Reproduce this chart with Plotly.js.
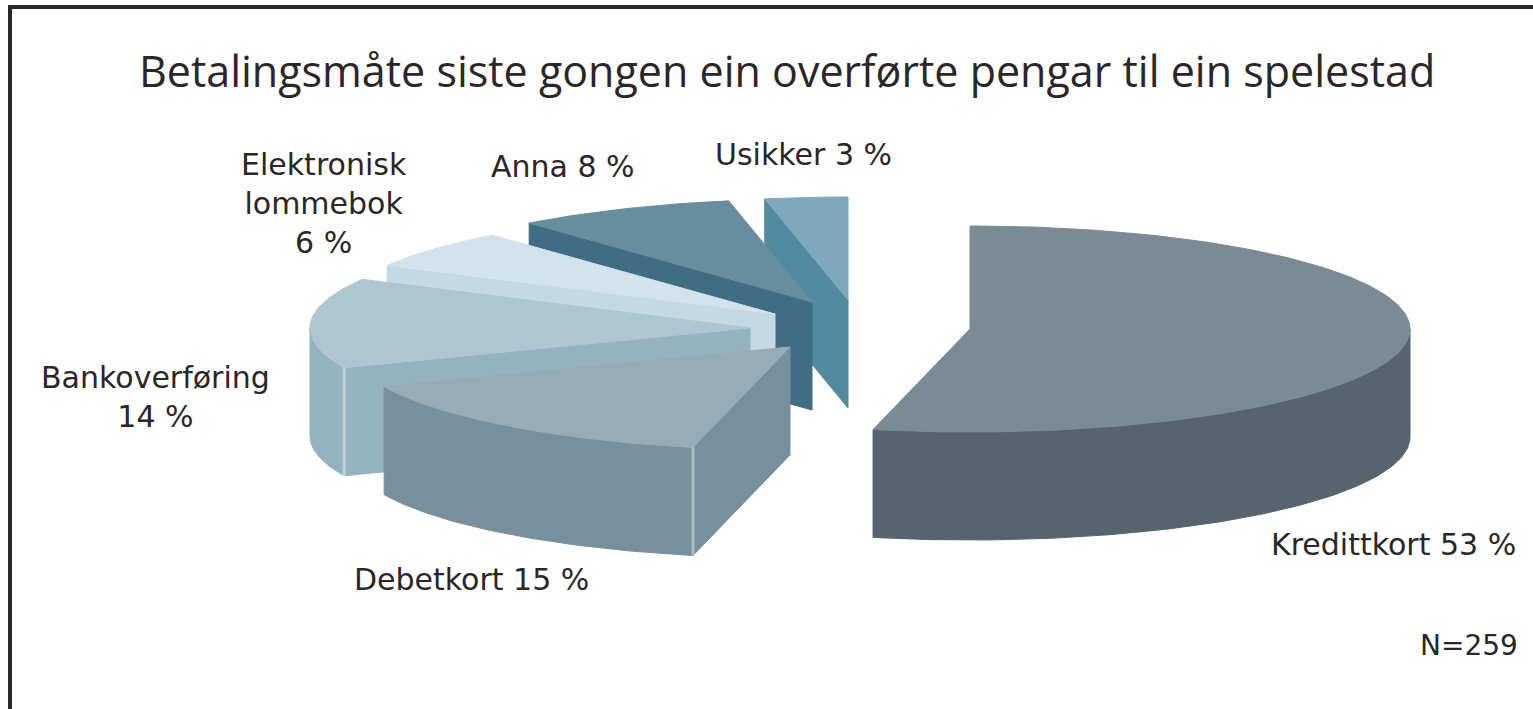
<!DOCTYPE html>
<html>
<head>
<meta charset="utf-8">
<script src="https://cdn.plot.ly/plotly-3.0.1.min.js"></script>
<style>html,body{margin:0;padding:0;background:#fff}#chart{width:1533px;height:709px}</style>
</head>
<body>
<div id="chart"></div>
<script>
// ---- data, clockwise from twelve o'clock
const categories = ["Kredittkort", "Debetkort", "Bankoverføring", "Elektronisk lommebok", "Anna", "Usikker"];
const percentages = [53, 15, 14, 6, 8, 3];
const sampleNote = "N=259";
const chartTitle = "Betalingsmåte siste gongen ein overførte pengar til ein spelestad";

// ---- styling: colours per slice
const topColours  = ["#7a8b95", "#97abb6", "#aec5d2", "#d2e3eb", "#678d9f", "#7fa8ba"];
const sideColours = ["#55646d", "#788f9d", "#94b2c0", "#c3d9e4", "#3f6e82", "#528aa0"];

// ---- geometry of the tilted, exploded pie (screen units of the hidden axes)
const radiusX = 440, radiusY = 103, depth = 108;
const apexX = [970, 790, 750, 775, 812, 848];
const apexY = [329, 347, 328, 314, 302, 300];
const drawOrder = [5, 4, 3, 2, 1, 0];

// ---- text placement
const labelX = [1393, 471, 155, 324, 563, 803];
const labelY = [544, 579, 397, 203, 166, 154];
const labelLines = [["Kredittkort"], ["Debetkort"], ["Bankoverføring"], ["Elektronisk", "lommebok"], ["Anna"], ["Usikker"]];
const labelBreakBeforeValue = [false, false, true, true, false, false];

const total = percentages.reduce((s, v) => s + v, 0);
const rad = d => d * Math.PI / 180;
const rimX = (i, deg) => apexX[i] + radiusX * Math.sin(rad(deg));
const rimY = (i, deg) => apexY[i] - radiusY * Math.cos(rad(deg));

function arc(i, from, to) {
  const pts = [];
  const n = Math.max(2, Math.ceil(Math.abs(to - from)));
  for (let k = 0; k <= n; k++) {
    const d = from + (to - from) * k / n;
    pts.push([rimX(i, d), rimY(i, d)]);
  }
  return pts;
}

function face(points, colour, name, pct) {
  const closed = points.concat([points[0]]);
  return {
    type: "scatter", mode: "lines", fill: "toself", fillcolor: colour,
    x: closed.map(p => p[0]), y: closed.map(p => p[1]),
    line: {color: colour, width: 1}, showlegend: false,
    hoverinfo: "text", text: name + " " + pct + " %", hoveron: "fills"
  };
}

function edge(x, y0, y1) {
  return {type: "scatter", mode: "lines", x: [x, x], y: [y0, y1],
          line: {color: "rgba(255,255,255,0.4)", width: 3}, showlegend: false, hoverinfo: "skip"};
}

let cursor = 0;
const starts = percentages.map(v => { const a = cursor; cursor += v / total * 360; return a; });

const traces = [];
drawOrder.forEach(i => {
  const a = starts[i], b = a + percentages[i] / total * 360;
  const name = categories[i], pct = percentages[i];
  const ax = apexX[i], ay = apexY[i];
  const sideC = sideColours[i];
  if (Math.sin(rad(a)) < -1e-6) {
    traces.push(face([[ax, ay], [rimX(i, a), rimY(i, a)], [rimX(i, a), rimY(i, a) + depth], [ax, ay + depth]], sideC, name, pct));
  }
  if (Math.sin(rad(b)) > 1e-6) {
    traces.push(face([[ax, ay], [rimX(i, b), rimY(i, b)], [rimX(i, b), rimY(i, b) + depth], [ax, ay + depth]], sideC, name, pct));
  }
  const f0 = Math.max(a, 90), f1 = Math.min(b, 270);
  if (f1 > f0) {
    const upper = arc(i, f0, f1);
    const lower = upper.map(p => [p[0], p[1] + depth]).reverse();
    traces.push(face(upper.concat(lower), sideC, name, pct));
  }
  traces.push(face([[ax, ay]].concat(arc(i, a, b)), topColours[i], name, pct));
  if (a > 90 && a < 270) traces.push(edge(rimX(i, a), rimY(i, a), rimY(i, a) + depth));
});

const titleFont = {family: "'Open Sans', sans-serif", color: "#2b2627", size: 43};
const labelFont = {family: "'DejaVu Sans', 'Open Sans', sans-serif", color: "#2b2627", size: 30};
const noteFont = {family: "'DejaVu Sans', 'Open Sans', sans-serif", color: "#2b2627", size: 28};
const annotations = categories.map((c, i) => ({
  x: labelX[i], y: labelY[i], xref: "x", yref: "y", showarrow: false, align: "center",
  text: labelLines[i].join("<br>") + (labelBreakBeforeValue[i] ? "<br>" : " ") + percentages[i] + " %",
  font: labelFont
}));
annotations.push({x: 1520, y: 645, xref: "x", yref: "y", xanchor: "right", showarrow: false,
  text: sampleNote, font: noteFont});
annotations.push({x: 787, y: 70, xref: "x", yref: "y", showarrow: false,
  text: chartTitle, font: titleFont});

const layout = {
  width: 1533, height: 709, margin: {l: 0, r: 0, t: 0, b: 0},
  paper_bgcolor: "#fff", plot_bgcolor: "#fff", showlegend: false,
  xaxis: {range: [0, 1533], visible: false, fixedrange: true},
  yaxis: {range: [709, 0], visible: false, fixedrange: true},
  annotations,
  shapes: [
    {type: "line", xref: "x", yref: "y", x0: 8, x1: 1533, y0: 7, y1: 7, line: {color: "#2b2627", width: 4}},
    {type: "line", xref: "x", yref: "y", x0: 10, x1: 10, y0: 5, y1: 709, line: {color: "#2b2627", width: 4}}
  ]
};
Plotly.newPlot("chart", traces, layout, {displayModeBar: false});
</script>
</body>
</html>
